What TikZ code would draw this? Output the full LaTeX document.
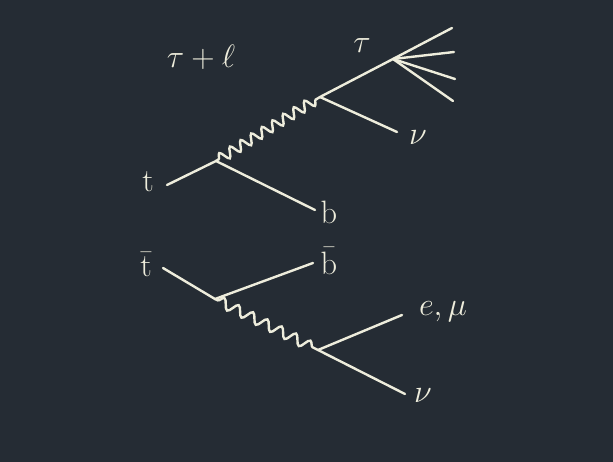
\documentclass[tikz,border=0pt]{standalone}
\usetikzlibrary{decorations.pathmorphing}
\definecolor{board}{HTML}{252C34}
\definecolor{chalk}{HTML}{EEEDDC}
\newcommand{\chalktext}[1]{\scalebox{1.3}{\Huge #1}}
\begin{document}
\begin{tikzpicture}[x=1pt,y=-1pt,
  chalkline/.style={draw=chalk,line width=2.4pt,line cap=round},
  boson/.style={chalkline,decorate,decoration={snake,amplitude=5pt,segment length=12.5pt,pre length=3pt,post length=2pt}},
  lbl/.style={text=chalk,inner sep=0pt}]
\fill[board] (0,0) rectangle (613,462);
\useasboundingbox (0,0) rectangle (613,462);
% upper diagram
\node[lbl] (title) at (201,57) {\chalktext{$\tau+\ell$}};
\coordinate (tin) at (167,185);
\coordinate (v1) at (216,161);
\coordinate (bend) at (315,210);
\coordinate (v2) at (320,97);
\coordinate (tauv) at (393,59);
\coordinate (nu1end) at (397,132);
\coordinate (j1) at (452,28);
\coordinate (j2) at (454,52);
\coordinate (j3) at (455,79);
\coordinate (j4) at (453,101);
\node[lbl] (t) at (148,182) {\chalktext{$\mathrm{t}$}};
\node[lbl] (b) at (329,212) {\chalktext{$\mathrm{b}$}};
\node[lbl] (tau) at (362,46) {\chalktext{$\tau$}};
\node[lbl] (nu1) at (418,138) {\chalktext{$\nu$}};
\draw[chalkline] (tin) -- (v1) -- (bend);
\draw[boson] (v1) -- (v2);
\draw[chalkline] (v2) -- (tauv);
\draw[chalkline] (v2) -- (nu1end);
\foreach \j in {j1,j2,j3,j4} \draw[chalkline] (tauv) -- (\j);
% lower diagram
\coordinate (tbin) at (163,268);
\coordinate (v3) at (215,299);
\coordinate (bbend) at (313,263);
\coordinate (v4) at (318,350);
\coordinate (lend) at (402,315);
\coordinate (nu2end) at (405,394);
\node[lbl] (tbar) at (146,264) {\chalktext{$\bar{\mathrm{t}}$}};
\node[lbl] (bbar) at (329,261) {\chalktext{$\bar{\mathrm{b}}$}};
\node[lbl] (lep) at (443,312) {\chalktext{$e,\mu$}};
\node[lbl] (nu2) at (423,396) {\chalktext{$\nu$}};
\draw[chalkline] (tbin) -- (v3) -- (bbend);
\draw[boson,decoration={segment length=16pt,amplitude=5pt}] (v3) -- (v4);
\draw[chalkline] (v4) -- (lend);
\draw[chalkline] (v4) -- (nu2end);
\end{tikzpicture}
\end{document}
